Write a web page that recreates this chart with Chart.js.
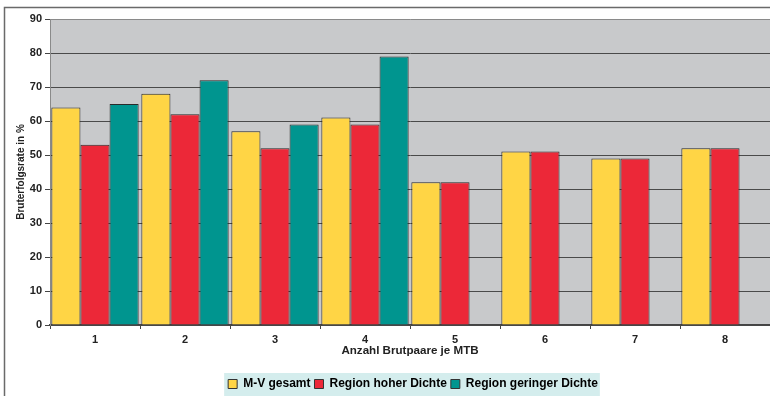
<!DOCTYPE html>
<html>
<head>
<meta charset="utf-8">
<script src="https://cdn.jsdelivr.net/npm/chart.js@4/dist/chart.umd.min.js"></script>
<style>
  html, body { margin: 0; padding: 0; background: #ffffff; }
  #wrap { width: 770px; height: 396px; position: relative; }
</style>
</head>
<body>
<div id="wrap"><canvas id="c" width="770" height="396"></canvas></div>
<script>
// Anzahl Brutpaare je MTB
const categories = ['1', '2', '3', '4', '5', '6', '7', '8'];
// Bruterfolgsrate in %
const mvGesamt = [64, 68, 57, 61, 42, 51, 49, 52];
const regionHoch = [53, 62, 52, 59, 42, 51, 49, 52];
const regionGering = [65, 72, 59, 79, null, null, null, null];
const yTicks = [0, 10, 20, 30, 40, 50, 60, 70, 80, 90];

const FONT = 'Liberation Sans, Arial, sans-serif';
const PLOT_BOTTOM = 325;
const LEGEND_SHIFT_X = 28;
const LEGEND_SHIFT_Y = 4;

// Frame, gray plot background and legend background
const decor = {
  id: 'decor',
  afterLayout(chart) {
    const lg = chart.legend;
    if (lg) {
      lg.left += LEGEND_SHIFT_X; lg.right += LEGEND_SHIFT_X;
      lg.top += LEGEND_SHIFT_Y; lg.bottom += LEGEND_SHIFT_Y;
    }
  },
  beforeDraw(chart) {
    const { ctx, chartArea: a } = chart;
    ctx.save();
    ctx.fillStyle = '#c8c9cb';
    ctx.fillRect(a.left, a.top, a.right - a.left, a.bottom - a.top);
    // outer frame
    ctx.strokeStyle = '#6a6a6a';
    ctx.lineWidth = 1.5;
    ctx.beginPath();
    ctx.moveTo(4.5, chart.height);
    ctx.lineTo(4.5, 7.5);
    ctx.lineTo(chart.width, 7.5);
    ctx.stroke();
    // legend background
    const lg = chart.legend;
    if (lg && lg.legendHitBoxes && lg.legendHitBoxes.length) {
      const boxes = lg.legendHitBoxes;
      const x0 = Math.min(...boxes.map(b => b.left)) - 4;
      const x1 = Math.max(...boxes.map(b => b.left + b.width)) + 2;
      const y0 = Math.min(...boxes.map(b => b.top)) - 5;
      ctx.fillStyle = '#d4eded';
      ctx.fillRect(x0, y0, x1 - x0, chart.height - y0);
    }
    ctx.restore();
  }
};

new Chart(document.getElementById('c'), {
  type: 'bar',
  data: {
    labels: categories,
    datasets: [
      { label: 'M-V gesamt', data: mvGesamt, backgroundColor: '#ffd545', borderColor: '#2a2a2a', borderWidth: 1 },
      { label: 'Region hoher Dichte', data: regionHoch, backgroundColor: '#ec2838', borderColor: '#2a2a2a', borderWidth: 1 },
      { label: 'Region geringer Dichte', data: regionGering, backgroundColor: '#00958f', borderColor: '#2a2a2a', borderWidth: 1 }
    ]
  },
  options: {
    responsive: false,
    animation: false,
    devicePixelRatio: 1,
    layout: { padding: { top: 19, left: 0, right: 0, bottom: 0 } },
    datasets: { bar: { categoryPercentage: 0.97, barPercentage: 1.0 } },
    plugins: {
      legend: {
        position: 'bottom',
        labels: {
          boxWidth: 9,
          boxHeight: 9,
          padding: 4,
          color: '#222222',
          font: { family: FONT, size: 12, weight: 'bold' },
          generateLabels(chart) {
            return chart.data.datasets.map((ds, i) => ({
              text: ds.label,
              fillStyle: ds.backgroundColor,
              strokeStyle: '#333333',
              lineWidth: 1,
              datasetIndex: i,
              hidden: false
            }));
          }
        }
      },
      tooltip: { enabled: false }
    },
    scales: {
      x: {
        afterFit(scale) {
          const lh = scale.chart.legend ? scale.chart.legend.height : 23;
          scale.height = scale.chart.height - lh - PLOT_BOTTOM;
        },
        grid: { display: true, drawOnChartArea: false, offset: true, color: '#444444', tickLength: 4, tickColor: '#444444' },
        border: { display: true, color: '#444444', width: 1.5 },
        ticks: { color: '#222222', padding: 4, font: { family: FONT, size: 11, weight: 'bold' } },
        title: {
          display: true,
          text: 'Anzahl Brutpaare je MTB',
          color: '#222222',
          font: { family: FONT, size: 11.6, weight: 'bold' },
          padding: { top: 0, bottom: 12 }
        }
      },
      y: {
        min: 0,
        max: 90,
        afterFit(scale) { scale.width = 50; },
        afterBuildTicks(scale) { scale.ticks = yTicks.map(v => ({ value: v })); },
        grid: {
          color: (c) => (c.tick && c.tick.value === 90) ? '#8a8a8a' : '#4a4a4a',
          lineWidth: 1,
          tickLength: 5,
          tickColor: '#444444'
        },
        border: { display: true, color: '#8a8a8a', width: 1 },
        ticks: { color: '#222222', padding: 3, font: { family: FONT, size: 11, weight: 'bold' } },
        title: {
          display: true,
          text: 'Bruterfolgsrate in %',
          color: '#222222',
          font: { family: FONT, size: 10, weight: 'bold' },
          padding: { top: 15, bottom: 0 }
        }
      }
    }
  },
  plugins: [decor]
});
</script>
</body>
</html>
